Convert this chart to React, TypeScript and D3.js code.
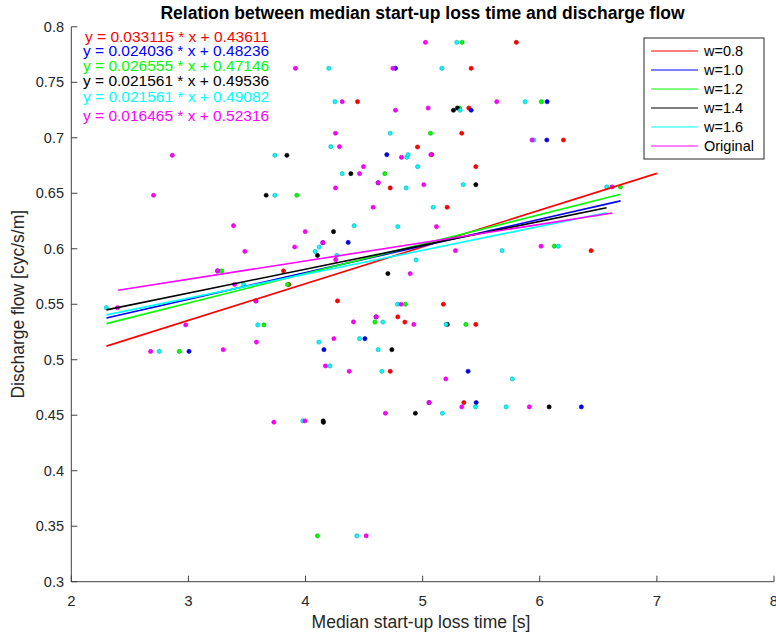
import React from 'react';
import * as d3 from 'd3';

const seriesNames = ['w=0.8', 'w=1.0', 'w=1.2', 'w=1.4', 'w=1.6', 'Original'];
const seriesColors = ['#ff0000', '#0000ff', '#00ff00', '#000000', '#00ffff', '#ff00ff'];
const seriesEdges = ['#d40000', '#0000b0', '#00b400', '#000000', '#10a8a8', '#d800d8'];
const slopes = [0.033115, 0.024036, 0.026555, 0.021561, 0.021561, 0.016465];
const intercepts = [0.43611, 0.48236, 0.47146, 0.49536, 0.49082, 0.52316];
const fitStart = [2.3, 2.3, 2.3, 2.3, 2.3, 2.4];
const fitEnd = [7.0, 6.69, 6.69, 6.57, 6.57, 6.62];
const xTicks = [2, 3, 4, 5, 6, 7, 8];
const yTicks = [0.3, 0.35, 0.4, 0.45, 0.5, 0.55, 0.6, 0.65, 0.7, 0.75, 0.8];

const w08: [number, number][] = [
  [4.444, 0.7325], [5.8, 0.786], [5.414, 0.7626], [5.394, 0.7268], [5.334, 0.7041],
  [6.202, 0.698], [4.956, 0.6917], [5.078, 0.6848], [5.454, 0.674], [4.723, 0.6548],
  [5.209, 0.6374], [6.438, 0.5983], [3.812, 0.58], [3.857, 0.5678], [4.273, 0.553],
  [5.177, 0.55], [4.788, 0.5386], [4.848, 0.5339], [5.454, 0.5318], [4.723, 0.4896],
  [5.352, 0.4614],
];
const w10: [number, number][] = [
  [4.768, 0.7626], [6.063, 0.7325], [5.414, 0.7248], [6.06, 0.698], [4.694, 0.6848],
  [4.364, 0.6057], [3.005, 0.5075], [4.157, 0.5091], [4.507, 0.519], [5.388, 0.4896],
  [5.457, 0.4614], [6.355, 0.4575], [3.576, 0.553], [4.148, 0.6055], [4.62, 0.6595],
  [4.603, 0.5386], [5.055, 0.4614], [3.249, 0.58],
];
const w12: [number, number][] = [
  [5.337, 0.786], [6.014, 0.7325], [5.314, 0.7268], [5.067, 0.7041], [4.677, 0.6677],
  [3.926, 0.6482], [6.688, 0.6557], [6.125, 0.6023], [3.284, 0.58], [3.846, 0.5678],
  [3.645, 0.5314], [2.922, 0.5075], [4.853, 0.55], [4.592, 0.5339], [5.369, 0.5318],
  [4.102, 0.3413],
];
const w14: [number, number][] = [
  [3.841, 0.6842], [4.387, 0.6677], [3.664, 0.6482], [4.239, 0.6154], [4.102, 0.594],
  [5.263, 0.7248], [5.297, 0.7268], [5.454, 0.6577], [4.703, 0.5776], [4.737, 0.5091],
  [5.21, 0.5318], [6.08, 0.4575], [4.938, 0.4518], [4.151, 0.4449], [4.153, 0.4436],
];
const w16: [number, number][] = [
  [4.199, 0.7626], [4.251, 0.7325], [4.216, 0.692], [3.738, 0.6842], [4.313, 0.6677],
  [3.738, 0.6482], [4.415, 0.6208], [4.117, 0.6016], [4.082, 0.5976], [4.268, 0.594],
  [5.292, 0.786], [5.164, 0.7626], [5.875, 0.7325], [5.32, 0.7248], [4.723, 0.7041],
  [5.949, 0.698], [4.865, 0.6824], [4.876, 0.6848], [4.957, 0.674], [4.859, 0.6548],
  [5.346, 0.6577], [5.09, 0.6374], [4.788, 0.6199], [6.572, 0.6557], [5.678, 0.5983],
  [6.159, 0.6023], [4.944, 0.5899], [2.299, 0.5469], [3.471, 0.5678], [3.592, 0.5314],
  [2.751, 0.5075], [4.114, 0.5159], [4.461, 0.519], [4.208, 0.4944], [3.977, 0.4449],
  [4.438, 0.3413], [4.785, 0.55], [4.66, 0.5339], [5.2, 0.5318], [4.62, 0.5091],
  [4.652, 0.4896], [5.766, 0.4827], [5.451, 0.4575], [5.713, 0.4575], [5.169, 0.4518],
];
const original: [number, number][] = [
  [3.914, 0.7626], [4.313, 0.7325], [4.256, 0.7041], [2.862, 0.6842], [4.29, 0.692],
  [4.461, 0.6677], [4.256, 0.6548], [2.702, 0.6482], [3.385, 0.6208], [3.997, 0.6154],
  [4.148, 0.6055], [3.482, 0.5976], [3.907, 0.6016], [4.257, 0.5902], [3.249, 0.58],
  [5.024, 0.786], [4.746, 0.7626], [5.633, 0.7325], [4.768, 0.7248], [5.047, 0.7268],
  [5.934, 0.698], [4.819, 0.6824], [5.07, 0.6848], [4.495, 0.674], [4.62, 0.6595],
  [5.01, 0.6577], [4.577, 0.6374], [5.118, 0.6199], [6.617, 0.6557], [5.28, 0.5983],
  [6.011, 0.6023], [4.893, 0.5776], [2.395, 0.5469], [3.394, 0.5678], [3.576, 0.553],
  [2.977, 0.5314], [4.409, 0.5341], [2.677, 0.5075], [3.297, 0.5091], [3.581, 0.5159],
  [4.242, 0.519], [4.17, 0.4944], [4.373, 0.4896], [3.73, 0.4437], [3.995, 0.4449],
  [4.816, 0.55], [4.603, 0.5386], [4.925, 0.5318], [5.198, 0.4827], [5.055, 0.4614],
  [5.334, 0.4575], [5.911, 0.4575], [4.682, 0.4518], [4.518, 0.3413],
];
const seriesPoints = [w08, w10, w12, w14, w16, original];

const W = 776;
const H = 637;
const FONT = '"Liberation Sans", Arial, Helvetica, sans-serif';
const AX = '#404040';

export default function App() {
  const x = d3.scaleLinear().domain([2, 8]).range([71.3, 774]);
  const y = d3.scaleLinear().domain([0.3, 0.8]).range([581.7, 26.8]);

  const eqBaselines = [41.5, 55.8, 71, 86.3, 101.8, 120.5];
  const eqX = [85, 83, 83, 83, 83, 83];

  const legX = 644, legY = 38, legW = 120, legH = 121, rowH = 19;

  return (
    <svg width={W} height={H} style={{ position: 'absolute', left: 0, top: 0, background: '#fff' }} fontFamily={FONT}>
      <rect x={0} y={0} width={W} height={H} fill="#fff" />
      {/* title */}
      <text x={422.5} y={18.5} textAnchor="middle" fontWeight="bold" fontSize={17.5} fill="#000">
        Relation between median start-up loss time and discharge flow
      </text>

      {/* scatter points */}
      {seriesPoints.map((pts, si) => (
        <g key={'p' + si}>
          {pts.map((p, i) => (
            <circle key={i} cx={x(p[0])} cy={y(p[1])} r={2.1} fill={seriesColors[si]} stroke={seriesEdges[si]} strokeWidth={0.6} />
          ))}
        </g>
      ))}

      {/* regression lines */}
      {seriesNames.map((n, si) => {
        const xs = [fitStart[si], fitEnd[si]];
        const d = d3.line<number>().x((v) => x(v)).y((v) => y(slopes[si] * v + intercepts[si]))(xs) || '';
        return <path key={'l' + si} d={d} stroke={seriesColors[si]} strokeWidth={1.6} fill="none" />;
      })}

      {/* axes */}
      <line x1={x(2)} x2={x(8)} y1={y(0.3)} y2={y(0.3)} stroke={AX} strokeWidth={1} />
      <line x1={x(2)} x2={x(2)} y1={y(0.3)} y2={y(0.8)} stroke={AX} strokeWidth={1} />
      {xTicks.map((t) => (
        <g key={'xt' + t}>
          <line x1={x(t)} x2={x(t)} y1={y(0.3)} y2={y(0.3) - 6} stroke={AX} strokeWidth={1} />
          <text x={x(t)} y={606} textAnchor="middle" fontSize={15} fill="#262626">{t}</text>
        </g>
      ))}
      {yTicks.map((t) => (
        <g key={'yt' + t}>
          <line x1={x(2)} x2={x(2) + 6} y1={y(t)} y2={y(t)} stroke={AX} strokeWidth={1} />
          <text x={64} y={y(t) + 5} textAnchor="end" fontSize={14.5} fill="#262626">{d3.format('.2~f')(t)}</text>
        </g>
      ))}

      {/* axis labels */}
      <text x={421} y={628} textAnchor="middle" fontSize={17.5} fill="#262626">Median start-up loss time [s]</text>
      <text transform={`translate(24,${y(0.55)}) rotate(-90)`} textAnchor="middle" fontSize={17.5} fill="#262626">
        Discharge flow [cyc/s/m]
      </text>

      {/* equations */}
      {seriesNames.map((n, si) => (
        <text key={'eq' + si} x={eqX[si]} y={eqBaselines[si]} fontSize={15.5} fill={seriesColors[si]}>
          {`y = ${slopes[si]} * x + ${intercepts[si]}`}
        </text>
      ))}

      {/* legend */}
      <rect x={legX} y={legY} width={legW} height={legH} fill="#fff" stroke="#262626" strokeWidth={1} />
      {seriesNames.map((n, si) => (
        <g key={'lg' + si}>
          <line x1={651} x2={698} y1={legY + 13 + si * rowH} y2={legY + 13 + si * rowH} stroke={seriesColors[si]} strokeWidth={1} />
          <text x={704} y={legY + 13 + si * rowH + 5} fontSize={14.5} fill="#000">{n}</text>
        </g>
      ))}
    </svg>
  );
}
